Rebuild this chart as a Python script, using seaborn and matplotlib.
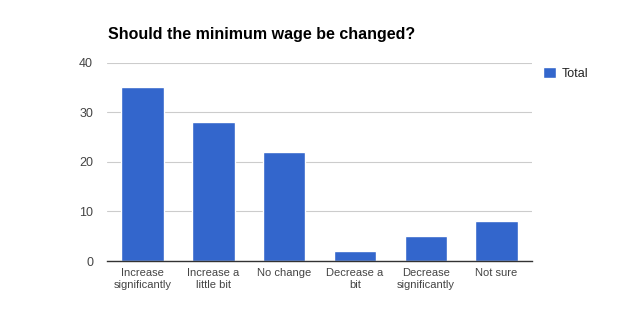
import matplotlib
matplotlib.use("Agg")
import matplotlib.pyplot as plt
import seaborn as sns
import pandas as pd

categories = ["Increase\nsignificantly", "Increase a\nlittle bit", "No change",
              "Decrease a\nbit", "Decrease\nsignificantly", "Not sure"]
values = [35, 28, 22, 2, 5, 8]
yticks = [0, 10, 20, 30, 40]
title = "Should the minimum wage be changed?"
series_name = "Total"

sns.set_style("white")
plt.rcParams['font.family'] = ['Liberation Sans', 'DejaVu Sans']

df = pd.DataFrame({"cat": categories, "val": values})

fig = plt.figure(figsize=(6.39, 3.23), dpi=100)
ax = fig.add_axes([107/639, 1 - 261/323, 425/639, (261 - 62.7)/323])
sns.barplot(data=df, x="cat", y="val", color="#3366CC", width=0.6,
            saturation=1, ax=ax, label=series_name, zorder=3)

ax.set_ylim(0, 40)
ax.set_xlim(-0.5, len(categories) - 0.5)
ax.set_yticks(yticks)
ax.yaxis.grid(True, color="#cccccc", linewidth=0.8, zorder=0)
ax.set_axisbelow(True)
for s in ["top", "right", "left"]:
    ax.spines[s].set_visible(False)
ax.spines["bottom"].set_color("#333333")
ax.spines["bottom"].set_linewidth(1)
ax.spines["bottom"].set_zorder(5)
ax.tick_params(axis="both", length=0, labelcolor="#444444")
ax.tick_params(axis="x", labelsize=8, pad=5)
ax.tick_params(axis="y", labelsize=9, pad=10)
ax.set_xlabel("")
ax.set_ylabel("")

fig.text(108/639, 1 - 35/323, title, fontsize=11.5, fontweight="bold",
         color="#000000", va="center", ha="left")

leg = ax.legend(loc="upper left", bbox_to_anchor=(1.0, 1.035), frameon=False,
                fontsize=9, handlelength=1.0, handleheight=1.0, handletextpad=0.5)
for t in leg.get_texts():
    t.set_color("#222222")

fig.savefig("out.png", dpi=100)
